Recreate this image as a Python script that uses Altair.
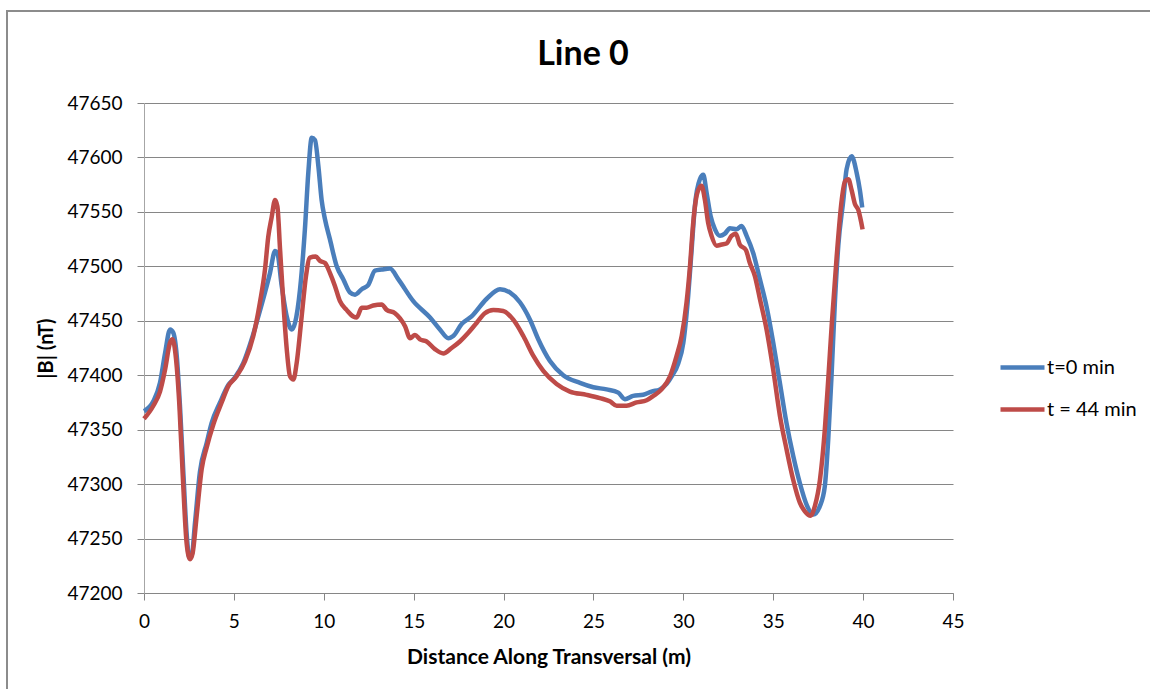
import altair as alt
import pandas as pd

# Series names and line colours
series = ["t=0 min", "t = 44 min"]
colors = ["#4A7EBB", "#BE4B48"]
chart_title = "Line 0"

# |B| along the line at t = 0 min
blue_x = [0, 0.52, 0.89, 1.17, 1.45, 1.63, 1.82, 2.0, 2.19, 2.37,
          2.52, 2.65, 2.84, 3.11, 3.49, 3.76, 4.23, 4.69, 5.06, 5.52,
          5.99, 6.36, 6.73, 7.01, 7.29, 7.42, 7.66, 7.94, 8.21, 8.40,
          8.68, 8.95, 9.14, 9.33, 9.51, 9.70, 9.88, 10.07, 10.34, 10.72,
          11.09, 11.46, 11.74, 12.11, 12.48, 12.85, 13.22, 13.68, 14.15, 14.98,
          15.91, 16.46, 16.93, 17.20, 17.67, 18.22, 19.05, 19.80, 20.35, 20.91,
          21.47, 21.93, 22.58, 23.32, 24.25, 24.99, 25.73, 26.38, 26.75, 27.21,
          27.77, 28.23, 28.70, 29.07, 29.35, 29.72, 30.0, 30.27, 30.46, 30.64,
          30.92, 31.11, 31.30, 31.52, 31.76, 32.04, 32.31, 32.59, 32.96, 33.24,
          33.52, 33.89, 34.26, 34.63, 35.0, 35.37, 35.74, 36.11, 36.48, 36.86,
          37.23, 37.60, 37.87, 38.06, 38.25, 38.43, 38.62, 38.90, 39.08, 39.36,
          39.64, 39.82, 39.95]
blue_b = [47367, 47376, 47393, 47420, 47442, 47439, 47418, 47372, 47310, 47255,
          47233, 47234, 47265, 47311, 47338, 47356, 47375, 47391, 47398, 47411,
          47433, 47454, 47476, 47494, 47514, 47512, 47482, 47454, 47442, 47448,
          47479, 47534, 47586, 47618, 47616, 47592, 47561, 47543, 47525, 47500,
          47488, 47476, 47474, 47479, 47483, 47496, 47497, 47498, 47488, 47468,
          47453, 47442, 47434, 47436, 47447, 47454, 47470, 47479, 47476, 47467,
          47451, 47433, 47413, 47400, 47393, 47389, 47387, 47384, 47378, 47381,
          47382, 47385, 47387, 47392, 47399, 47411, 47430, 47473, 47515, 47555,
          47580, 47584, 47567, 47546, 47534, 47528, 47530, 47535, 47534, 47537,
          47528, 47512, 47488, 47463, 47430, 47393, 47356, 47326, 47301, 47281,
          47272, 47280, 47298, 47341, 47402, 47467, 47519, 47561, 47589, 47601,
          47586, 47570, 47554]

# |B| along the line at t = 44 min
red_x = [0, 0.52, 0.89, 1.17, 1.45, 1.58, 1.78, 1.97, 2.15, 2.37,
         2.56, 2.71, 2.93, 3.21, 3.49, 3.86, 4.32, 4.69, 5.15, 5.62,
         6.08, 6.45, 6.73, 6.91, 7.10, 7.29, 7.42, 7.57, 7.75, 7.94,
         8.12, 8.31, 8.49, 8.77, 9.01, 9.23, 9.55, 9.79, 10.07, 10.34,
         10.62, 10.90, 11.27, 11.64, 11.83, 12.11, 12.38, 12.75, 13.22, 13.50,
         13.96, 14.52, 14.80, 15.07, 15.35, 15.72, 16.18, 16.65, 17.11, 17.57,
         18.04, 18.50, 18.96, 19.43, 19.98, 20.54, 21.10, 21.65, 22.21, 22.95,
         23.69, 24.62, 25.36, 25.91, 26.29, 26.84, 27.40, 27.96, 28.33, 28.79,
         29.26, 29.63, 29.91, 30.18, 30.37, 30.55, 30.77, 31.01, 31.20, 31.38,
         31.57, 31.85, 32.13, 32.40, 32.68, 32.92, 33.14, 33.48, 33.70, 33.98,
         34.26, 34.63, 35.0, 35.37, 35.74, 36.11, 36.48, 36.76, 37.08, 37.32,
         37.60, 37.87, 38.06, 38.25, 38.53, 38.81, 38.99, 39.18, 39.36, 39.55,
         39.73, 39.97]
red_b = [47360, 47372, 47385, 47405, 47430, 47433, 47415, 47372, 47310, 47246,
         47231, 47237, 47271, 47314, 47334, 47355, 47375, 47390, 47399, 47413,
         47436, 47467, 47497, 47527, 47545, 47561, 47555, 47515, 47467, 47424,
         47399, 47396, 47411, 47454, 47491, 47508, 47509, 47505, 47503, 47494,
         47482, 47468, 47460, 47454, 47453, 47462, 47462, 47464, 47465, 47460,
         47457, 47445, 47434, 47437, 47433, 47431, 47424, 47420, 47425, 47431,
         47439, 47448, 47457, 47460, 47459, 47451, 47436, 47418, 47404, 47392,
         47385, 47382, 47379, 47376, 47372, 47372, 47375, 47377, 47381, 47387,
         47399, 47418, 47436, 47467, 47500, 47540, 47567, 47574, 47561, 47540,
         47528, 47519, 47520, 47521, 47528, 47530, 47520, 47515, 47503, 47491,
         47470, 47442, 47405, 47363, 47332, 47304, 47283, 47275, 47271, 47280,
         47304, 47350, 47396, 47445, 47509, 47561, 47578, 47580, 47570, 47557,
         47552, 47534]

x_ticks = list(range(0, 50, 5))
y_ticks = list(range(47200, 47700, 50))

FONT = "Lato"
GRID = "#868686"

df_blue = pd.DataFrame({"x": blue_x, "B": blue_b, "series": series[0]})
df_red = pd.DataFrame({"x": red_x, "B": red_b, "series": series[1]})

x_enc = alt.X(
    "x:Q",
    scale=alt.Scale(domain=[0, 45], nice=False),
    axis=alt.Axis(
        values=x_ticks, title="Distance Along Transversal (m)", grid=False,
        domainColor=GRID, tickColor=GRID, tickSize=7, labelPadding=12,
        labelFlush=False, labelFontSize=19, labelFont=FONT,
        labelColor="#000000", titleFont=FONT, titleFontSize=21,
        titleFontWeight="bold", titleColor="#000000", titleY=64,
        titleBaseline="middle",
    ),
)
y_enc = alt.Y(
    "B:Q",
    scale=alt.Scale(domain=[47200, 47650], nice=False, zero=False),
    axis=alt.Axis(
        values=y_ticks, format="d", title="|B| (nT)", grid=True,
        gridColor=GRID, gridWidth=1, domainColor="#A6A6A6", tickColor=GRID,
        tickSize=7, labelPadding=15, labelFlush=False, labelFontSize=19,
        labelFont=FONT, labelColor="#000000", titleFont=FONT,
        titleFontSize=20, titleFontWeight="bold", titleColor="#000000",
        titleX=-98, titleBaseline="middle",
    ),
)
color_enc = alt.Color(
    "series:N",
    scale=alt.Scale(domain=series, range=colors),
    legend=alt.Legend(
        title=None, orient="none", legendX=854, legendY=240, padding=0,
        symbolType="stroke", symbolSize=1936, symbolStrokeWidth=4.5,
        labelFont=FONT, labelFontSize=20, labelColor="#000000",
        labelOffset=0, rowPadding=7,
    ),
)

blue = alt.Chart(df_blue).mark_line(strokeWidth=4.5, interpolate="monotone").encode(
    x=x_enc, y=y_enc, color=color_enc
)
red = alt.Chart(df_red).mark_line(strokeWidth=4.5, interpolate="monotone").encode(
    x=x_enc, y=y_enc, color=color_enc
)

# outer chart-area frame
frame = alt.Chart(alt.Data(values=[{}])).mark_rect(
    fill=None, stroke="#8C8C8C", strokeWidth=2
).encode(
    x=alt.value(-137), y=alt.value(-92), x2=alt.value(1100), y2=alt.value(700)
)

# chart heading, centred over the whole chart area
heading = alt.Chart(alt.Data(values=[{"t": chart_title}])).mark_text(
    font=FONT, fontSize=34, fontWeight="bold", color="#000000",
    align="center", baseline="alphabetic",
).encode(x=alt.value(439), y=alt.value(-38), text="t:N")

chart = alt.layer(frame, heading, blue, red).properties(
    width=809,
    height=490,
    autosize=alt.AutoSizeParams(type="none"),
    padding={"left": 144, "top": 103, "right": 197, "bottom": 96},
    background="#FFFFFF",
).configure_view(stroke=None)

chart.save("out.html", embed_options={"renderer": "svg", "actions": False})
